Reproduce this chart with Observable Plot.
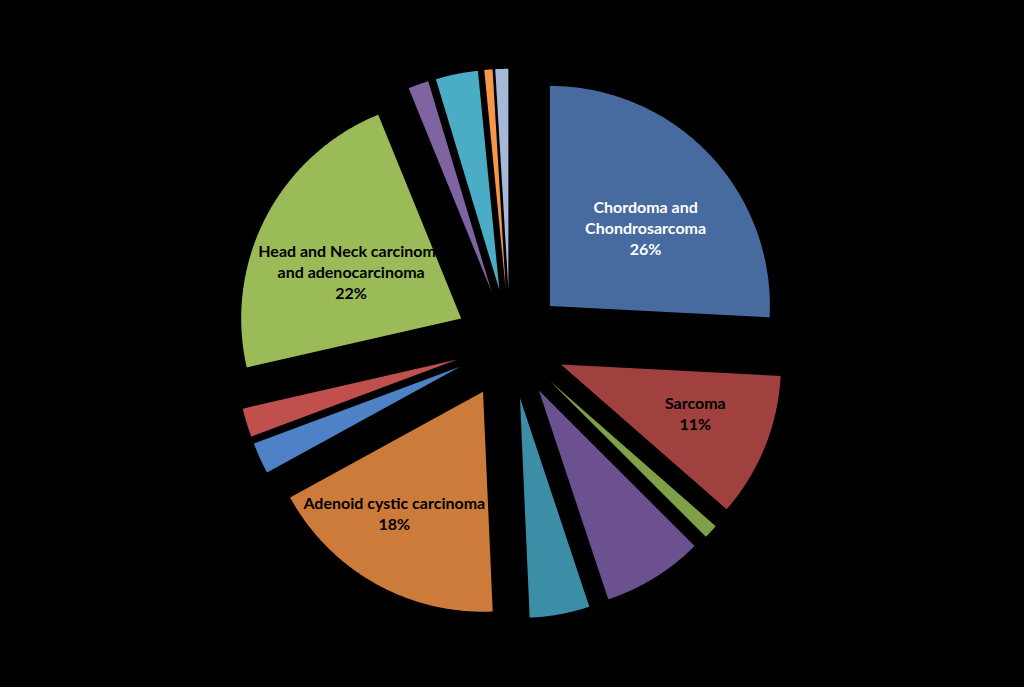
<!DOCTYPE html>
<html>
<head>
<meta charset="utf-8">
<script src="https://cdn.jsdelivr.net/npm/d3@7"></script>
<script src="https://cdn.jsdelivr.net/npm/@observablehq/plot@0.6"></script>
<style>
  html, body { margin: 0; padding: 0; background: #000; overflow: hidden; }
  #chart svg { display: block; }
</style>
</head>
<body>
<div id="chart"></div>
<script>
// ---- data (clockwise from 12 o'clock) ----
const categories = [
  "Chordoma and Chondrosarcoma", "Sarcoma", "Category 3", "Category 4", "Category 5",
  "Adenoid cystic carcinoma", "Category 7", "Category 8",
  "Head and Neck carcinoma and adenocarcinoma", "Category 10", "Category 11",
  "Category 12", "Category 13"
];
const values = [25.8, 10.6, 1.05, 7.4, 4.4, 17.7, 2.3, 2.1, 22.4, 1.5, 3.1, 0.6, 0.95];
// label text shown on the chart (empty = no label)
const labelNames = [
  "Chordoma and\nChondrosarcoma", "Sarcoma", "", "", "",
  "Adenoid cystic carcinoma", "", "",
  "Head and Neck carcinoma\nand adenocarcinoma", "", "", "", ""
];
const colors = [
  "#476A9F", "#A0413F", "#7FA047", "#6B5190", "#3C8DA6",
  "#CD7B3B", "#4F81C7", "#C0504D", "#9BBB59", "#8064A2",
  "#4BACC6", "#F79646", "#A7B9D9"
];
const whiteLabel = ["Chordoma and Chondrosarcoma"];

// ---- layout ----
const W = 1024, H = 687;
const R = 220;                // pie radius in px
const cx = 509.5, cy = 343.3; // pie centre in px
const explode = 0.25;         // explosion distance, in radius units
const labelRadius = 0.6;      // label distance from slice tip, in radius units
// best-fit style nudges for the labels, in px
const labelNudge = {
  "Chordoma and Chondrosarcoma": [0, 12],
  "Sarcoma": [12, -1],
  "Adenoid cystic carcinoma": [-24, 6],
  "Head and Neck carcinoma and adenocarcinoma": [7, 14]
};

const total = d3.sum(values);
const arcs = d3.pie().sort(null).value(d => d)(values);

const points = [];
const labelData = [];
arcs.forEach((a, i) => {
  const mid = (a.startAngle + a.endAngle) / 2;
  const ox = explode * Math.sin(mid), oy = explode * Math.cos(mid);
  points.push({k: categories[i], x: ox, y: oy});
  const n = Math.max(2, Math.ceil((a.endAngle - a.startAngle) / (Math.PI / 360)));
  for (let j = 0; j <= n; ++j) {
    const t = a.startAngle + (a.endAngle - a.startAngle) * j / n;
    points.push({k: categories[i], x: ox + Math.sin(t), y: oy + Math.cos(t)});
  }
  if (labelNames[i]) {
    const [ndx, ndy] = labelNudge[categories[i]] || [0, 0];
    labelData.push({
      k: categories[i],
      x: ox + labelRadius * Math.sin(mid) + ndx / R,
      y: oy + labelRadius * Math.cos(mid) - ndy / R,
      text: labelNames[i] + "\n" + Math.round(values[i] / total * 100) + "%"
    });
  }
});

const textStyle = {fontFamily: "Lato", fontWeight: "bold", fontSize: 16, lineHeight: 1.31};

const plot = Plot.plot({
  width: W,
  height: H,
  margin: 0,
  style: {background: "#000", overflow: "visible"},
  x: {domain: [-cx / R, (W - cx) / R], range: [0, W], axis: null},
  y: {domain: [-(H - cy) / R, cy / R], range: [H, 0], axis: null},
  color: {domain: categories, range: colors},
  marks: [
    Plot.line(points, {x: "x", y: "y", z: "k", fill: "k", stroke: "none", curve: "linear-closed"}),
    Plot.text(labelData, {
      filter: d => whiteLabel.includes(d.k),
      x: "x", y: "y", text: "text", fill: "#ffffff", ...textStyle
    }),
    Plot.text(labelData, {
      filter: d => !whiteLabel.includes(d.k),
      x: "x", y: "y", text: "text", fill: "#000000", ...textStyle
    })
  ]
});
document.getElementById("chart").appendChild(plot);
</script>
</body>
</html>
